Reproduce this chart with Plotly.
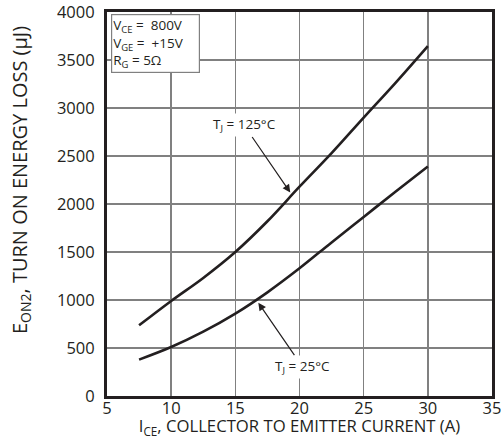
import plotly.graph_objects as go

# Data
current_a = [7.5, 10, 12.5, 15, 17.5, 20, 22.5, 25, 27.5, 30]
eon2_125c = [736, 990, 1230, 1500, 1820, 2180, 2530, 2900, 3265, 3645]
eon2_25c = [379, 510, 670, 858, 1080, 1330, 1600, 1865, 2130, 2390]

x_ticks = [5, 10, 15, 20, 25, 30, 35]
y_ticks = [0, 500, 1000, 1500, 2000, 2500, 3000, 3500, 4000]

FONT = "Open Sans"
INK = "#231f20"
GRID = "#808080"

W, H = 501, 439
ML, MR, MT, MB = 107, 9, 12, 43

fig = go.Figure()
fig.add_trace(go.Scatter(x=current_a, y=eon2_125c, mode="lines",
                         line=dict(color=INK, width=2.6, shape="spline"),
                         showlegend=False, hoverinfo="skip"))
fig.add_trace(go.Scatter(x=current_a, y=eon2_25c, mode="lines",
                         line=dict(color=INK, width=2.6, shape="spline"),
                         showlegend=False, hoverinfo="skip"))

fig.add_annotation(x=5.31, y=3979, xref="x", yref="y", xanchor="left", yanchor="top",
                   text="V<sub>CE</sub> =  800V<br>V<sub>GE</sub> =  +15V<br>R<sub>G</sub> = 5Ω",
                   showarrow=False, align="left", valign="top", width=85, height=55,
                   font=dict(family=FONT, size=13.5, color=INK),
                   bgcolor="white", bordercolor=GRID, borderwidth=1.2, borderpad=1)

fig.add_annotation(x=19.28, y=2120, xref="x", yref="y",
                   text="T<sub>J</sub> = 125°C", showarrow=True,
                   ax=-46, ay=-67, arrowhead=2, arrowsize=1.3, arrowwidth=1.2,
                   arrowcolor=INK, font=dict(family=FONT, size=13.5, color=INK),
                   bgcolor="white")
fig.add_annotation(x=16.79, y=972, xref="x", yref="y",
                   text="T<sub>J</sub> = 25°C", showarrow=True,
                   ax=44, ay=64, arrowhead=2, arrowsize=1.3, arrowwidth=1.2,
                   arrowcolor=INK, font=dict(family=FONT, size=13.5, color=INK),
                   bgcolor="white")

# y-axis title as a rotated annotation so it can sit slightly above centre
plot_w = W - ML - MR
plot_h = H - MT - MB
fig.add_annotation(x=(20 - ML) / plot_w, y=(H - MB - 180) / plot_h,
                   xref="paper", yref="paper", xanchor="center", yanchor="middle",
                   text="E<sub>ON2</sub>, TURN ON ENERGY LOSS (μJ)", textangle=-90,
                   showarrow=False, font=dict(family=FONT, size=20, color=INK))

axis_common = dict(showgrid=True, gridcolor=GRID, gridwidth=1.5,
                   showline=True, linecolor=INK, linewidth=3, mirror=True,
                   zeroline=False, ticks="", ticklabeloverflow="allow",
                   tickfont=dict(family=FONT, size=16.5, color=INK))

fig.update_xaxes(range=[5, 35], tickvals=x_ticks, ticklabelstandoff=-5,
                 title=dict(text="I<sub>CE</sub>, COLLECTOR TO EMITTER CURRENT (A)",
                            font=dict(family=FONT, size=16.7, color=INK), standoff=4),
                 **axis_common)
fig.update_yaxes(range=[0, 4000], tickvals=y_ticks, ticklabelstandoff=6,
                 **axis_common)

fig.update_layout(width=W, height=H,
                  margin=dict(l=ML, r=MR, t=MT, b=MB, autoexpand=False),
                  paper_bgcolor="white", plot_bgcolor="white",
                  font=dict(family=FONT, color=INK))

fig.write_html("out.html", config={"displayModeBar": False, "staticPlot": True},
               post_script="document.body.style.margin='0';document.body.style.overflow='hidden';")
